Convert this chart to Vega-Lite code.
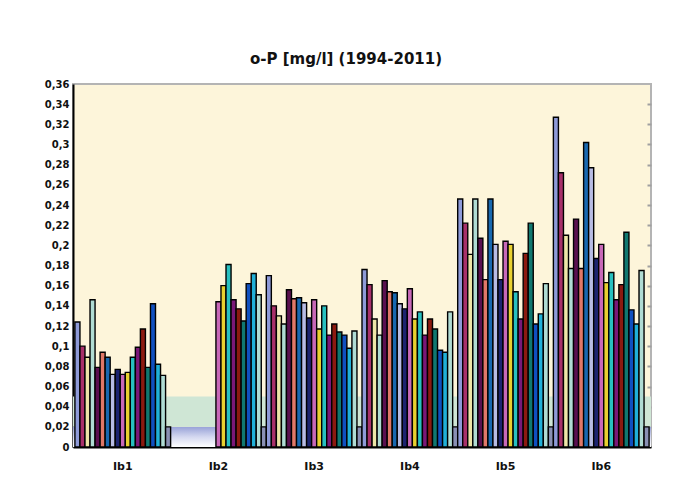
{
  "$schema": "https://vega.github.io/schema/vega-lite/v6.json",
  "width": 578,
  "height": 363,
  "autosize": {"type": "none"},
  "padding": {"left": 73, "top": 84, "right": 31, "bottom": 52},
  "background": "#ffffff",
  "config": {
    "view": {"fill": "#FDF5DA", "stroke": "#b4b4b4", "strokeWidth": 2}
  },
  "title": {
    "text": "o-P [mg/l] (1994-2011)",
    "font": "DejaVu Sans",
    "fontSize": 15,
    "fontWeight": "bold",
    "color": "#111111",
    "dx": -16,
    "offset": 12
  },
  "datasets": {
    "bands": [{"lo": 0, "hi": 0.02}],
    "green": [{"lo": 0.02, "hi": 0.05}],
    "obs": [
      {"g": "Ib1", "s": "1994", "v": 0.124}, {"g": "Ib1", "s": "1995", "v": 0.100}, {"g": "Ib1", "s": "1996", "v": 0.089},
      {"g": "Ib1", "s": "1997", "v": 0.146}, {"g": "Ib1", "s": "1998", "v": 0.079}, {"g": "Ib1", "s": "1999", "v": 0.094},
      {"g": "Ib1", "s": "2000", "v": 0.089}, {"g": "Ib1", "s": "2001", "v": 0.072}, {"g": "Ib1", "s": "2002", "v": 0.077},
      {"g": "Ib1", "s": "2003", "v": 0.072}, {"g": "Ib1", "s": "2004", "v": 0.074}, {"g": "Ib1", "s": "2005", "v": 0.089},
      {"g": "Ib1", "s": "2006", "v": 0.099}, {"g": "Ib1", "s": "2007", "v": 0.117}, {"g": "Ib1", "s": "2008", "v": 0.079},
      {"g": "Ib1", "s": "2009", "v": 0.142}, {"g": "Ib1", "s": "2010", "v": 0.082}, {"g": "Ib1", "s": "2011", "v": 0.071},
      {"g": "Ib1", "s": "ref", "v": 0.02},
      {"g": "Ib2", "s": "2003", "v": 0.144}, {"g": "Ib2", "s": "2004", "v": 0.160}, {"g": "Ib2", "s": "2005", "v": 0.181},
      {"g": "Ib2", "s": "2006", "v": 0.146}, {"g": "Ib2", "s": "2007", "v": 0.137}, {"g": "Ib2", "s": "2008", "v": 0.125},
      {"g": "Ib2", "s": "2009", "v": 0.162}, {"g": "Ib2", "s": "2010", "v": 0.172}, {"g": "Ib2", "s": "2011", "v": 0.151},
      {"g": "Ib2", "s": "ref", "v": 0.02},
      {"g": "Ib3", "s": "1994", "v": 0.170}, {"g": "Ib3", "s": "1995", "v": 0.140}, {"g": "Ib3", "s": "1996", "v": 0.130},
      {"g": "Ib3", "s": "1997", "v": 0.122}, {"g": "Ib3", "s": "1998", "v": 0.156}, {"g": "Ib3", "s": "1999", "v": 0.147},
      {"g": "Ib3", "s": "2000", "v": 0.148}, {"g": "Ib3", "s": "2001", "v": 0.143}, {"g": "Ib3", "s": "2002", "v": 0.128},
      {"g": "Ib3", "s": "2003", "v": 0.146}, {"g": "Ib3", "s": "2004", "v": 0.117}, {"g": "Ib3", "s": "2005", "v": 0.140},
      {"g": "Ib3", "s": "2006", "v": 0.111}, {"g": "Ib3", "s": "2007", "v": 0.122}, {"g": "Ib3", "s": "2008", "v": 0.114},
      {"g": "Ib3", "s": "2009", "v": 0.111}, {"g": "Ib3", "s": "2010", "v": 0.098}, {"g": "Ib3", "s": "2011", "v": 0.115},
      {"g": "Ib3", "s": "ref", "v": 0.02},
      {"g": "Ib4", "s": "1994", "v": 0.176}, {"g": "Ib4", "s": "1995", "v": 0.161}, {"g": "Ib4", "s": "1996", "v": 0.127},
      {"g": "Ib4", "s": "1997", "v": 0.111}, {"g": "Ib4", "s": "1998", "v": 0.165}, {"g": "Ib4", "s": "1999", "v": 0.154},
      {"g": "Ib4", "s": "2000", "v": 0.153}, {"g": "Ib4", "s": "2001", "v": 0.142}, {"g": "Ib4", "s": "2002", "v": 0.137},
      {"g": "Ib4", "s": "2003", "v": 0.157}, {"g": "Ib4", "s": "2004", "v": 0.127}, {"g": "Ib4", "s": "2005", "v": 0.134},
      {"g": "Ib4", "s": "2006", "v": 0.111}, {"g": "Ib4", "s": "2007", "v": 0.127}, {"g": "Ib4", "s": "2008", "v": 0.117},
      {"g": "Ib4", "s": "2009", "v": 0.096}, {"g": "Ib4", "s": "2010", "v": 0.094}, {"g": "Ib4", "s": "2011", "v": 0.134},
      {"g": "Ib4", "s": "ref", "v": 0.02},
      {"g": "Ib5", "s": "1994", "v": 0.246}, {"g": "Ib5", "s": "1995", "v": 0.222}, {"g": "Ib5", "s": "1996", "v": 0.191},
      {"g": "Ib5", "s": "1997", "v": 0.246}, {"g": "Ib5", "s": "1998", "v": 0.207}, {"g": "Ib5", "s": "1999", "v": 0.166},
      {"g": "Ib5", "s": "2000", "v": 0.246}, {"g": "Ib5", "s": "2001", "v": 0.201}, {"g": "Ib5", "s": "2002", "v": 0.166},
      {"g": "Ib5", "s": "2003", "v": 0.204}, {"g": "Ib5", "s": "2004", "v": 0.201}, {"g": "Ib5", "s": "2005", "v": 0.154},
      {"g": "Ib5", "s": "2006", "v": 0.127}, {"g": "Ib5", "s": "2007", "v": 0.192}, {"g": "Ib5", "s": "2008", "v": 0.222},
      {"g": "Ib5", "s": "2009", "v": 0.122}, {"g": "Ib5", "s": "2010", "v": 0.132}, {"g": "Ib5", "s": "2011", "v": 0.162},
      {"g": "Ib5", "s": "ref", "v": 0.02},
      {"g": "Ib6", "s": "1994", "v": 0.327}, {"g": "Ib6", "s": "1995", "v": 0.272}, {"g": "Ib6", "s": "1996", "v": 0.210},
      {"g": "Ib6", "s": "1997", "v": 0.177}, {"g": "Ib6", "s": "1998", "v": 0.226}, {"g": "Ib6", "s": "1999", "v": 0.177},
      {"g": "Ib6", "s": "2000", "v": 0.302}, {"g": "Ib6", "s": "2001", "v": 0.277}, {"g": "Ib6", "s": "2002", "v": 0.187},
      {"g": "Ib6", "s": "2003", "v": 0.201}, {"g": "Ib6", "s": "2004", "v": 0.163}, {"g": "Ib6", "s": "2005", "v": 0.173},
      {"g": "Ib6", "s": "2006", "v": 0.146}, {"g": "Ib6", "s": "2007", "v": 0.161}, {"g": "Ib6", "s": "2008", "v": 0.213},
      {"g": "Ib6", "s": "2009", "v": 0.136}, {"g": "Ib6", "s": "2010", "v": 0.122}, {"g": "Ib6", "s": "2011", "v": 0.175},
      {"g": "Ib6", "s": "ref", "v": 0.02}
    ]
  },
  "resolve": {"axis": {"y": "independent"}},
  "layer": [
    {
      "data": {"name": "bands"},
      "mark": {
        "type": "rect",
        "color": {
          "gradient": "linear", "x1": 0, "y1": 0, "x2": 0, "y2": 1,
          "stops": [
            {"offset": 0, "color": "#98A2D8"},
            {"offset": 0.5, "color": "#D4D8F0"},
            {"offset": 1, "color": "#FFFFFF"}
          ]
        }
      },
      "encoding": {
        "y": {
          "field": "lo", "type": "quantitative",
          "scale": {"domain": [0, 0.36], "nice": false},
          "axis": {
            "orient": "right", "labels": false, "domain": false, "grid": false,
            "ticks": true, "tickColor": "#a0a0a0", "tickSize": -4, "tickWidth": 2,
            "values": [0.02, 0.04, 0.06, 0.08, 0.1, 0.12, 0.14, 0.16, 0.18, 0.2, 0.22, 0.24, 0.26, 0.28, 0.3, 0.32, 0.34],
            "title": null
          }
        },
        "y2": {"field": "hi"}
      }
    },
    {
      "data": {"name": "green"},
      "mark": {"type": "rect", "color": "#CFE6D5"},
      "encoding": {
        "y": {"field": "lo", "type": "quantitative", "axis": null},
        "y2": {"field": "hi"}
      }
    },
    {
      "data": {"name": "obs"},
      "mark": {"type": "bar", "stroke": "#000000", "strokeWidth": 1.4},
      "encoding": {
        "x": {
          "field": "g", "type": "nominal",
          "scale": {"paddingInner": 0, "paddingOuter": 0.02},
          "axis": {
            "title": null, "labelAngle": 0, "ticks": false, "domain": true,
            "domainColor": "#000000", "domainWidth": 2,
            "labelFont": "DejaVu Sans", "labelFontSize": 11, "labelFontWeight": "bold",
            "labelColor": "#111111", "labelPadding": 13
          }
        },
        "xOffset": {
          "field": "s", "type": "nominal",
          "scale": {
            "domain": ["1994", "1995", "1996", "1997", "1998", "1999", "2000", "2001", "2002", "2003", "2004", "2005", "2006", "2007", "2008", "2009", "2010", "2011", "ref"],
            "paddingInner": 0, "paddingOuter": 0
          }
        },
        "y": {
          "field": "v", "type": "quantitative",
          "scale": {"domain": [0, 0.36], "nice": false},
          "axis": {
            "orient": "left", "title": null, "grid": false, "ticks": false,
            "domainColor": "#000000", "domainWidth": 2,
            "values": [0, 0.02, 0.04, 0.06, 0.08, 0.1, 0.12, 0.14, 0.16, 0.18, 0.2, 0.22, 0.24, 0.26, 0.28, 0.3, 0.32, 0.34, 0.36],
            "labelExpr": "replace(format(datum.value, '.2~f'), '.', ',')",
            "labelFont": "DejaVu Sans", "labelFontSize": 10, "labelFontWeight": "bold",
            "labelColor": "#111111", "labelPadding": 4
          }
        },
        "color": {
          "field": "s", "type": "nominal", "legend": null,
          "scale": {
            "domain": ["1994", "1995", "1996", "1997", "1998", "1999", "2000", "2001", "2002", "2003", "2004", "2005", "2006", "2007", "2008", "2009", "2010", "2011", "ref"],
            "range": ["#8E9AD8", "#A8306A", "#EEE6A8", "#B0DCD4", "#5A1050", "#E07868", "#1868B0", "#B8BCE4", "#1C2470", "#C868B8", "#E8D030", "#28C0C0", "#7A1878", "#8C1A10", "#107870", "#1050C0", "#20B0D8", "#B0DCD4", "#8A90B4"]
          }
        }
      }
    }
  ]
}
